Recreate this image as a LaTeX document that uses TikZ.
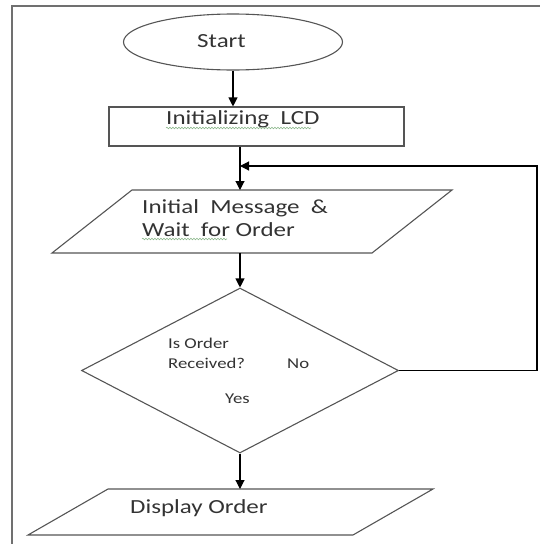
\documentclass[tikz,border=0pt]{standalone}
\usepackage{fontspec}
\setmainfont{Carlito}[FakeStretch=1.25]
\usetikzlibrary{shapes.geometric,arrows.meta,decorations.pathmorphing}
\definecolor{shapegray}{HTML}{555555}
\definecolor{framegray}{HTML}{707070}
\definecolor{txtgray}{HTML}{333333}
\definecolor{squiggreen}{HTML}{8DB88D}
\begin{document}
\begin{tikzpicture}[x=1pt,y=-1pt,
  shp/.style={draw=shapegray,line width=1.1pt},
  arr/.style={draw=black,line width=1.1pt,-{Triangle[length=9pt,width=9pt]}},
  lbl/.style={anchor=base west,inner sep=0pt,text=txtgray,font=\fontsize{20}{24}\selectfont},
  small/.style={lbl,font=\fontsize{15}{18}\selectfont},
  squig/.style={draw=squiggreen,line width=0.6pt,decorate,decoration={snake,amplitude=0.8pt,segment length=3pt}}]
\useasboundingbox (0,0) rectangle (539,544);
% frame
\draw[framegray,line width=1.8pt] (12,546) -- (12,6) -- (541,6);
% shapes
\node[shp,ellipse,minimum width=219pt,minimum height=56pt,inner sep=0pt] (start) at (233,42) {};
\node[shp,rectangle,minimum width=295pt,minimum height=39pt,inner sep=0pt] (init) at (256.5,126.5) {};
\node[minimum width=320pt,minimum height=63pt,inner sep=0pt,outer sep=0pt] (msg) at (252,221.5) {};
\draw[shp] ([xshift=40pt]msg.north west) -- ([xshift=40pt]msg.north east) -- ([xshift=-40pt]msg.south east) -- ([xshift=-40pt]msg.south west) -- cycle;
\node[shp,diamond,minimum width=317pt,minimum height=165pt,inner sep=0pt] (dec) at (240,370.5) {};
\node[minimum width=325pt,minimum height=46pt,inner sep=0pt,outer sep=0pt] (disp) at (230.5,512) {};
\draw[shp] ([xshift=40pt]disp.north west) -- ([xshift=40pt]disp.north east) -- ([xshift=-40pt]disp.south east) -- ([xshift=-40pt]disp.south west) -- cycle;
% connectors
\coordinate (fb) at (537,166);
\draw[arr] (start.south) -- (start.south |- init.north);
\draw[arr] (dec.north |- init.south) -- (dec.north |- msg.north);
\draw[arr] (dec.north |- msg.south) -- (dec.north);
\draw[arr] (dec.south) -- (dec.south |- disp.north);
\draw[arr] (dec.east) -- (dec.east -| fb) -- (fb) -- (fb -| dec.north);
% texts
\node[lbl] (tstart) at (197,47) {Start};
\node[lbl] (tinit) at (166,124) {Initializing\ \ LCD};
\node[lbl] (tmsg1) at (142,213) {Initial\ \ Message\ \ \&};
\node[lbl] (tmsg2) at (142,236) {Wait\ \ for Order};
\node[small] (tq1) at (168,348) {Is Order};
\node[small] (tq2) at (168,368) {Received?};
\node[small] (tno) at (287,368) {No};
\node[small] (tyes) at (225,403) {Yes};
\node[lbl] (tdisp) at (130,513) {Display Order};
% spell-check squiggles
\draw[squig] (tinit.base west) ++(0,4) -- ++(145,0);
\draw[squig] (tmsg2.base west) ++(0,3) -- ++(85,0);
\end{tikzpicture}
\end{document}
